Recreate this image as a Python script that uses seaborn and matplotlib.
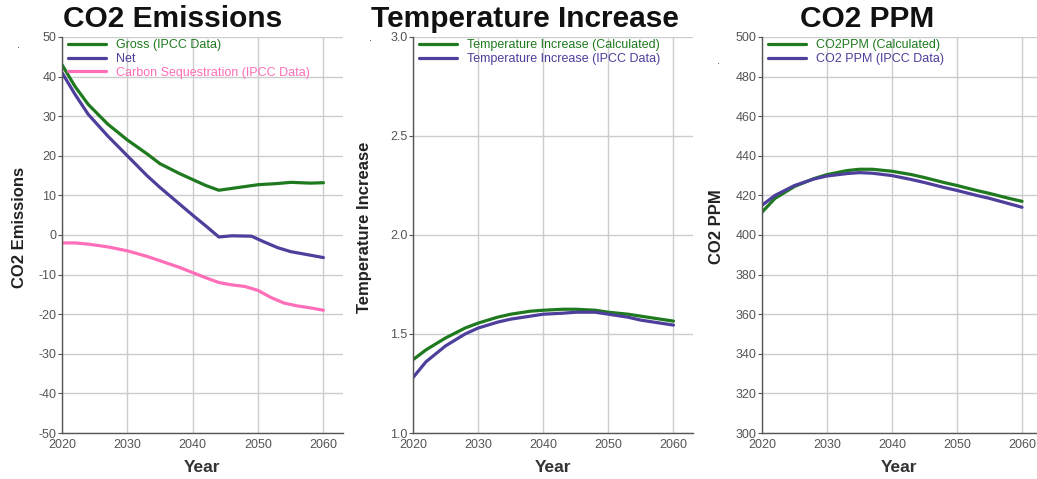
import numpy as np
import pandas as pd
import matplotlib
matplotlib.use("Agg")
import matplotlib.pyplot as plt
import seaborn as sns

# ---- data ----
em_years_gross = [2020, 2022, 2024, 2027, 2030, 2033, 2035, 2038, 2040, 2042, 2044, 2047, 2050, 2053, 2055, 2058, 2060]
gross = [43, 37.5, 33, 28, 24, 20.5, 18, 15.5, 14, 12.5, 11.3, 12, 12.7, 13.0, 13.3, 13.1, 13.2]
em_years_net = [2020, 2022, 2024, 2027, 2030, 2033, 2035, 2038, 2040, 2042, 2044, 2046, 2049, 2051, 2053, 2055, 2058, 2060]
net = [41, 35.5, 30.5, 25, 20, 15, 12, 7.8, 5, 2.3, -0.5, -0.2, -0.3, -1.8, -3.2, -4.2, -5.1, -5.7]
em_years_seq = [2020, 2022, 2024, 2027, 2030, 2033, 2035, 2038, 2040, 2042, 2044, 2046, 2048, 2050, 2052, 2054, 2056, 2058, 2060]
seq = [-2, -2.0, -2.3, -3.0, -4.0, -5.4, -6.5, -8.2, -9.5, -10.8, -12.0, -12.6, -13.0, -14.0, -15.8, -17.2, -17.9, -18.4, -19.0]

temp_years = [2020, 2022, 2025, 2028, 2030, 2033, 2035, 2038, 2040, 2043, 2045, 2048, 2050, 2053, 2055, 2058, 2060]
temp_calc = [1.37, 1.42, 1.48, 1.53, 1.555, 1.585, 1.60, 1.615, 1.62, 1.625, 1.625, 1.62, 1.61, 1.60, 1.59, 1.575, 1.565]
temp_ipcc = [1.28, 1.36, 1.44, 1.50, 1.53, 1.56, 1.575, 1.59, 1.60, 1.605, 1.61, 1.61, 1.60, 1.585, 1.57, 1.555, 1.545]

ppm_years = [2020, 2022, 2025, 2028, 2030, 2033, 2035, 2037, 2040, 2043, 2045, 2048, 2050, 2053, 2055, 2058, 2060]
ppm_calc = [411.5, 418.5, 424.5, 428.5, 430.5, 432.5, 433.2, 433.2, 432.2, 430.5, 429.0, 426.5, 425.0, 422.5, 421.0, 418.5, 417.0]
ppm_ipcc = [415.0, 420.0, 425.0, 428.3, 429.8, 431.0, 431.5, 431.2, 430.0, 428.0, 426.5, 424.0, 422.5, 420.0, 418.5, 415.8, 414.0]

titles = ["CO2 Emissions", "Temperature Increase", "CO2 PPM"]
ylabels = ["CO2 Emissions", "Temperature Increase", "CO2 PPM"]
em_labels = ["Gross (IPCC Data)", "Net", "Carbon Sequestration (IPCC Data)"]
temp_labels = ["Temperature Increase (Calculated)", "Temperature Increase (IPCC Data)"]
ppm_labels = ["CO2PPM (Calculated)", "CO2 PPM (IPCC Data)"]
x_ticks = [2020, 2030, 2040, 2050, 2060]

GREEN = "#1f7a1f"
PURPLE = "#4d3f9b"
PINK = "#ff6eb8"

sns.set_theme(style="white")
plt.rcParams["font.family"] = ["Liberation Sans", "DejaVu Sans"]

fig = plt.figure(figsize=(10.37, 4.79), dpi=100)
W, H = 1037, 479

def make_ax(left_px, right_px):
    return fig.add_axes([left_px / W, 1 - 433 / H, (right_px - left_px) / W, (433 - 37) / H])

axes = [make_ax(62, 343), make_ax(413, 693), make_ax(762, 1037)]
ylabel_x = [-0.125, -0.145, -0.138]

def long_df(pairs):
    rows = []
    for lab, xs, ys in pairs:
        for x, y in zip(xs, ys):
            rows.append({"Year": x, "Value": y, "Series": lab})
    return pd.DataFrame(rows)

datasets = [
    (long_df([(em_labels[0], em_years_gross, gross), (em_labels[1], em_years_net, net),
              (em_labels[2], em_years_seq, seq)]), [GREEN, PURPLE, PINK], em_labels,
     (-50, 50), np.arange(-50, 51, 10), lambda v: f"{v:g}"),
    (long_df([(temp_labels[0], temp_years, temp_calc), (temp_labels[1], temp_years, temp_ipcc)]),
     [GREEN, PURPLE], temp_labels, (1.0, 3.0), np.arange(1.0, 3.01, 0.5), lambda v: f"{v:.1f}"),
    (long_df([(ppm_labels[0], ppm_years, ppm_calc), (ppm_labels[1], ppm_years, ppm_ipcc)]),
     [GREEN, PURPLE], ppm_labels, (300, 500), np.arange(300, 501, 20), lambda v: f"{v:g}"),
]

for i, (ax, (df, cols, labs, ylim, yt, fmt)) in enumerate(zip(axes, datasets)):
    sns.lineplot(data=df, x="Year", y="Value", hue="Series", hue_order=labs,
                 palette=cols, linewidth=2.3, ax=ax, legend=False, sort=True)
    ax.set_xlim(2020, 2063 if i < 2 else 2062.3)
    ax.set_ylim(*ylim)
    ax.set_xticks(x_ticks)
    ax.set_yticks(yt)
    ax.set_yticklabels([fmt(v) for v in yt])
    ax.grid(True, color="#cccccc", linewidth=1.0)
    ax.set_axisbelow(True)
    for s in ["top", "right"]:
        ax.spines[s].set_visible(False)
    for s in ["left", "bottom"]:
        ax.spines[s].set_color("#555555")
        ax.spines[s].set_linewidth(1.0)
    ax.tick_params(axis="both", which="both", length=3, width=0.8, color="#555555",
                   labelsize=9, labelcolor="#555555", pad=1, direction="out",
                   left=True, bottom=False)
    ax.set_xlabel("Year", fontsize=12.5, fontweight="bold", color="#333333", labelpad=7)
    ax.set_ylabel(ylabels[i], fontsize=12, fontweight="bold", color="#222222")
    ax.yaxis.set_label_coords(ylabel_x[i], 0.52)
    handles = [plt.Line2D([], [], color=c, linewidth=2.3) for c in cols]
    leg = ax.legend(handles, labs, loc="upper left", frameon=False, fontsize=9,
                    handlelength=3.0, handletextpad=0.8, labelspacing=0.14,
                    borderaxespad=0.1, bbox_to_anchor=(0.0, 1.01))
    for t, c in zip(leg.get_texts(), cols):
        t.set_color(c)

title_centers = [173, 525, 867]
for t, cx in zip(titles, title_centers):
    fig.text(cx / W, 1 - 19 / H, t, ha="center", va="center", fontsize=21.5,
             fontweight="bold", color="#111111")

for (dx, dy) in [(18, 45), (370, 38), (718, 61)]:
    fig.text(dx / W, 1 - dy / H, ".", ha="center", va="center", fontsize=8, color="#444444")

fig.savefig("out.png", dpi=100)
